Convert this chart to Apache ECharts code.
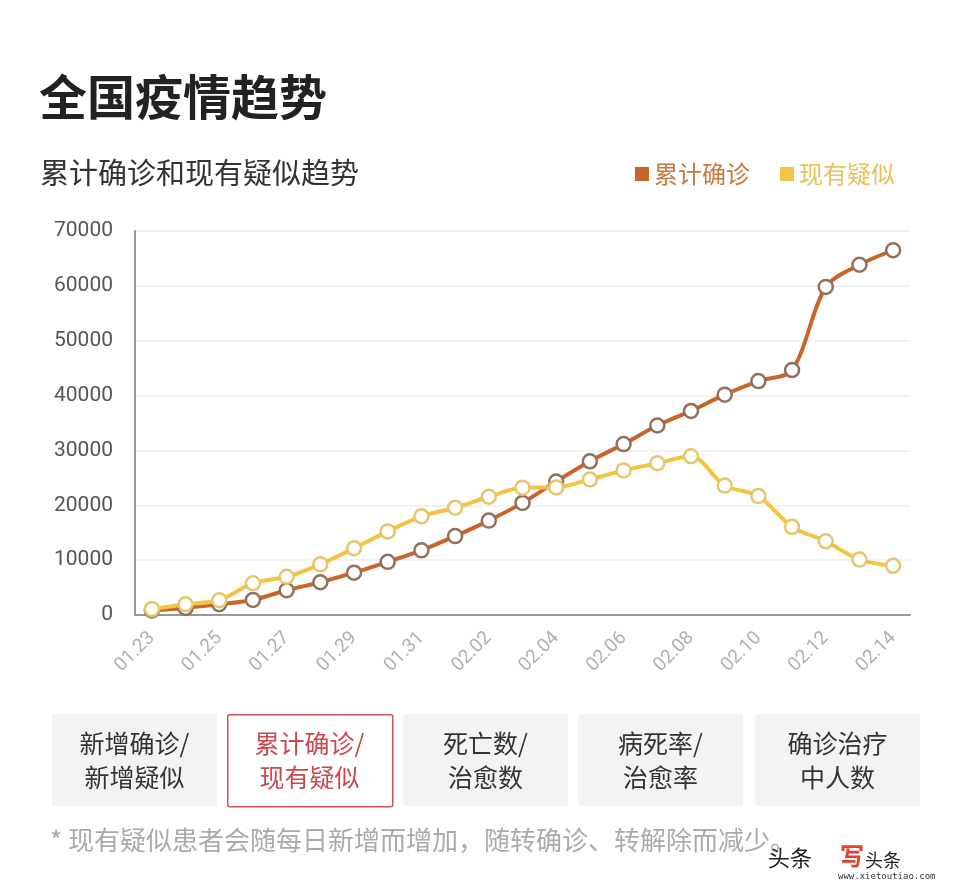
<!DOCTYPE html>
<html><head><meta charset="utf-8">
<script src="https://cdn.jsdelivr.net/npm/echarts@6/dist/echarts.min.js"></script>
<style>html,body{margin:0;padding:0;background:#fff;}#c{width:972px;height:894px;}</style>
</head><body><div id="c"></div>
<script>
const categories = ['01.23','01.24','01.25','01.26','01.27','01.28','01.29','01.30','01.31','02.01','02.02','02.03','02.04','02.05','02.06','02.07','02.08','02.09','02.10','02.11','02.12','02.13','02.14'];
const confirmedTotal = [830,1287,1975,2744,4515,5974,7711,9692,11791,14380,17205,20438,24324,28018,31161,34546,37198,40171,42638,44653,59804,63851,66492];
const suspectedNow = [1072,1965,2684,5794,6973,9239,12167,15238,17988,19544,21558,23214,23260,24702,26359,27657,28942,23589,21675,16067,13435,10109,8969];
const yTicks = [0,10000,20000,30000,40000,50000,60000,70000];
const buttons = [['新增确诊/','新增疑似'],['累计确诊/','现有疑似'],['死亡数/','治愈数'],['病死率/','治愈率'],['确诊治疗','中人数']];

const FONT = '"Noto Sans CJK SC", "Noto Sans", sans-serif';
const ORANGE = '#c9652b', YELLOW = '#f3c443';
const chart = echarts.init(document.getElementById('c'));

const btnX = [52,227,403,578,755], btnW = 165;
const graphics = [];
buttons.forEach((b,i)=>{
  const active = i===1;
  graphics.push({type:'rect', left:btnX[i], top:714, shape:{width:btnW, height:92, r:2},
    style:{fill: active ? '#fff' : '#f2f3f5', stroke: active ? '#c9545a' : null, lineWidth: active?1.5:0}, silent:true});
  graphics.push({type:'text', x:btnX[i]+btnW/2, y:760, style:{text:b.join('\n'), fill: active ? '#c9474f' : '#333', font:'25px '+FONT, align:'center', verticalAlign:'middle', lineHeight:34}, silent:true});
});
graphics.push({type:'text', x:50, y:840, style:{text:'* 现有疑似患者会随每日新增而增加，随转确诊、转解除而减少。', fill:'#aaa', font:'26px '+FONT, verticalAlign:'middle'}});
graphics.push({type:'text', x:768, y:858, style:{text:'头条', fill:'#222', font:'22px '+FONT, verticalAlign:'middle'}});
graphics.push({type:'text', x:840, y:856, style:{text:'写', fill:'#e8402f', font:'bold 24px '+FONT, verticalAlign:'middle'}});
graphics.push({type:'text', x:865, y:860, style:{text:'头条', fill:'#222', font:'18px '+FONT, verticalAlign:'middle'}});
graphics.push({type:'text', x:838, y:877, style:{text:'www.xietoutiao.com', fill:'#333', font:'9px monospace', verticalAlign:'middle'}});

chart.setOption({
  animation:false,
  backgroundColor:'#fff',
  textStyle:{fontFamily:FONT},
  title:[
    {text:'全国疫情趋势', left:34, top:68, textStyle:{fontSize:48, fontWeight:'bold', color:'#222', fontFamily:FONT}},
    {text:'累计确诊和现有疑似趋势', left:35, top:153, textStyle:{fontSize:29, fontWeight:'normal', color:'#333', fontFamily:FONT}}
  ],
  legend:{
    right:72, top:157, icon:'rect', itemWidth:14, itemHeight:14, itemGap:30,
    data:[
      {name:'累计确诊', itemStyle:{color:ORANGE, borderWidth:0}, textStyle:{color:'#c8793e'}},
      {name:'现有疑似', itemStyle:{color:YELLOW, borderWidth:0}, textStyle:{color:'#e8c15a'}}
    ],
    textStyle:{fontSize:24, fontFamily:FONT}, selectedMode:false
  },
  grid:{left:135, right:62, top:231, bottom:279, containLabel:false},
  xAxis:{
    type:'category', data:categories, boundaryGap:true,
    axisLine:{lineStyle:{color:'#999', width:2}},
    axisTick:{show:false},
    axisLabel:{interval:1, rotate:45, color:'#b0b0b0', fontSize:19, margin:20, fontFamily:'Roboto, "Noto Sans", sans-serif'},
    splitLine:{show:false}
  },
  yAxis:{
    type:'value', min:0, max:70000, interval:10000,
    axisLine:{show:true, lineStyle:{color:'#999', width:2}},
    axisTick:{show:false},
    axisLabel:{color:'#555', fontSize:21, margin:22, fontFamily:'Roboto, "Noto Sans", sans-serif',
      customValues: yTicks, formatter: v => String(v)},
    splitLine:{lineStyle:{color:'#eeeeee', width:1.5}}
  },
  series:[
    {name:'累计确诊', type:'line', data:confirmedTotal, smooth:0.3, symbol:'circle', symbolSize:14, z:2,
      color:ORANGE,
      lineStyle:{color:ORANGE, width:4},
      itemStyle:{color:'#fff', borderColor:'#93705c', borderWidth:2.5},
      emphasis:{disabled:true}},
    {name:'现有疑似', type:'line', data:suspectedNow, smooth:0.3, symbol:'circle', symbolSize:14, z:3,
      color:YELLOW,
      lineStyle:{color:YELLOW, width:4},
      itemStyle:{color:'#fff', borderColor:'#e6c66c', borderWidth:2.5},
      emphasis:{disabled:true}}
  ],
  graphic:graphics
});
</script></body></html>
